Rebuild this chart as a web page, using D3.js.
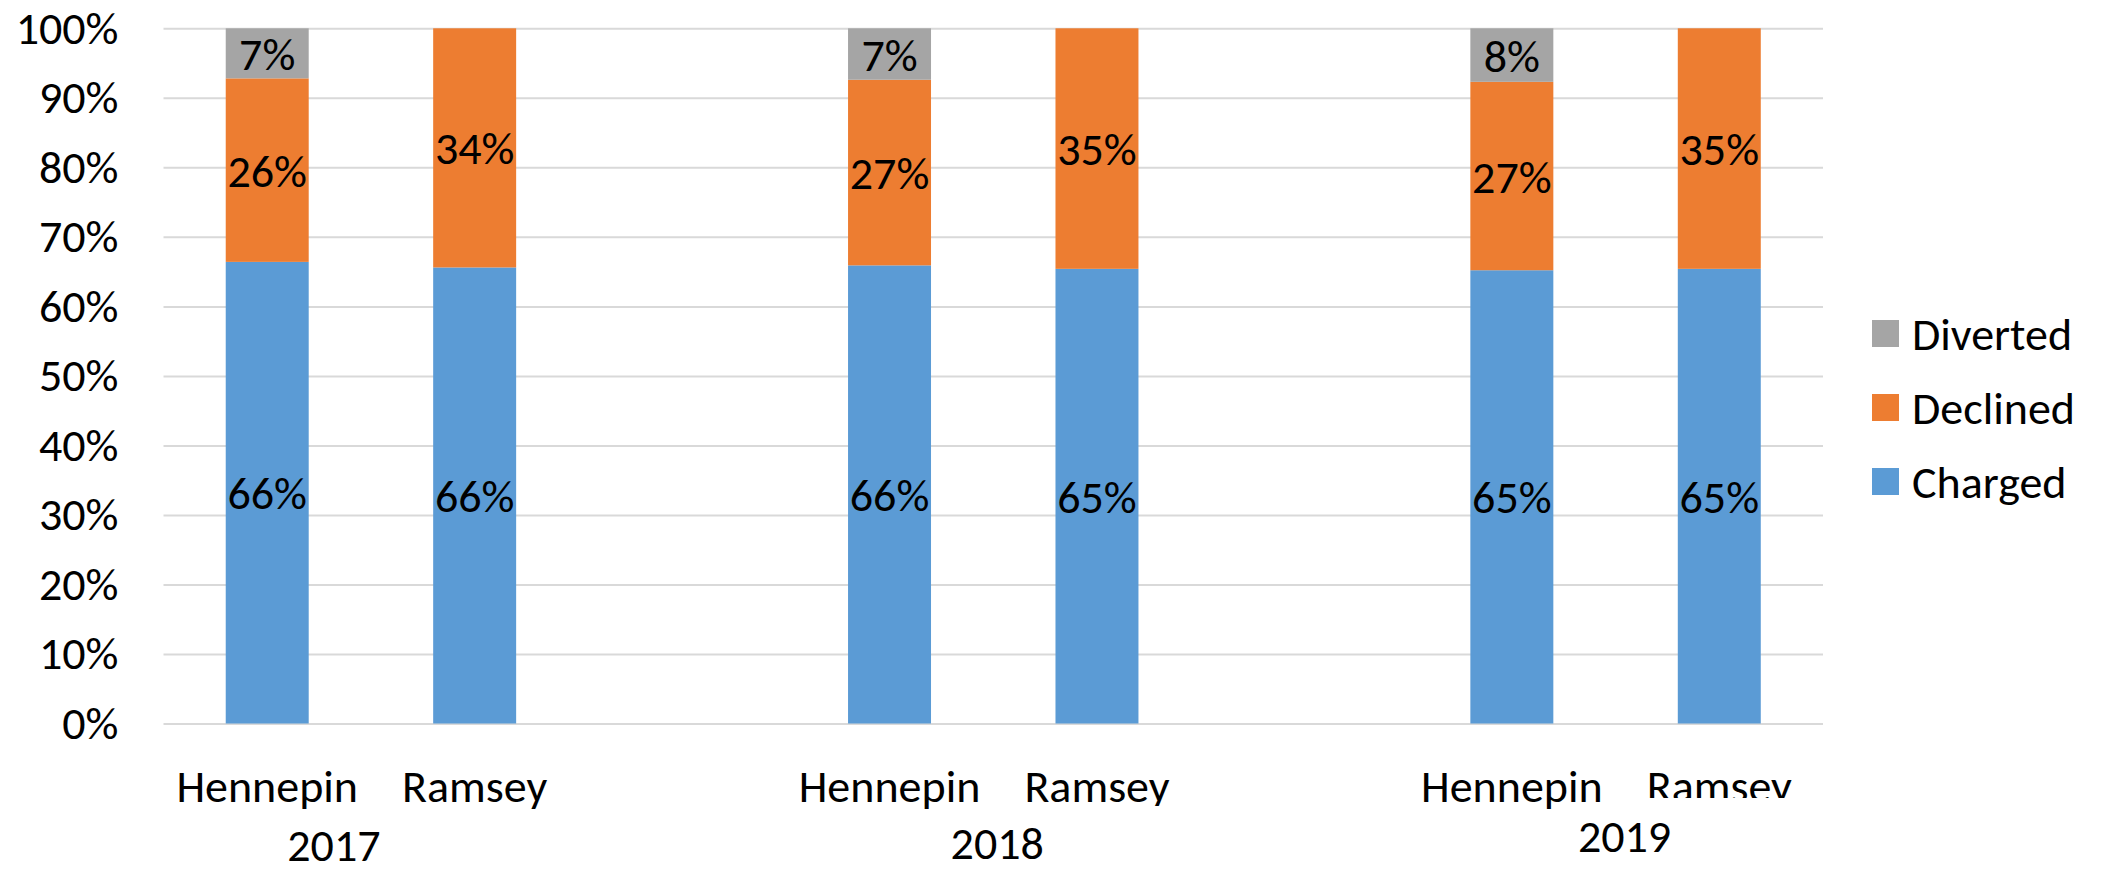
<!DOCTYPE html>
<html>
<head>
<meta charset="utf-8">
<script src="https://cdn.jsdelivr.net/npm/d3@7"></script>
<style>
  html, body { margin: 0; padding: 0; background: #fff; }
  text { font-family: Carlito, Calibri, Lato, sans-serif; fill: #000; }
</style>
</head>
<body>
<script>
// categories, in slot order (blank slots separate the years)
var years = ["2017", "2018", "2019"];
var counties = ["Hennepin", "Ramsey"];
var seriesNames = ["Charged", "Declined", "Diverted"];

// share of cases, % (order: H2017, R2017, H2018, R2018, H2019, R2019)
var charged  = [66.4, 65.6, 65.9, 65.4, 65.2, 65.4];
var declined = [26.4, 34.4, 26.7, 34.6, 27.1, 34.6];
var diverted = [7.2, 0, 7.4, 0, 7.7, 0];

var yTicks = [0, 10, 20, 30, 40, 50, 60, 70, 80, 90, 100];

var colours = { Charged: "#5B9BD5", Declined: "#ED7D31", Diverted: "#A5A5A5" };

var width = 2102, height = 871;
var fontSize = 46;

// build rows + slot list (one empty slot between years)
var rows = [];
var slots = [];
years.forEach(function (yr, yi) {
  if (yi > 0) slots.push("gap" + yi);
  counties.forEach(function (c, ci) {
    var i = yi * counties.length + ci;
    var key = yr + "|" + c;
    rows.push({ key: key, year: yr, county: c, Charged: charged[i], Declined: declined[i], Diverted: diverted[i] });
    slots.push(key);
  });
});

var x = d3.scaleBand()
  .domain(slots)
  .range([163.5, 1823])
  .paddingInner(0.6)
  .paddingOuter(0.3);

var y = d3.scaleLinear()
  .domain([0, 100])
  .range([723.5, 28.3]);

var svg = d3.select("body").append("svg")
  .attr("xmlns", "http://www.w3.org/2000/svg")
  .attr("width", width)
  .attr("height", height);

// gridlines + y labels
var yAxis = svg.append("g")
  .attr("transform", "translate(163.5,0)")
  .call(d3.axisLeft(y)
    .tickValues(yTicks)
    .tickSize(-(1823 - 163.5))
    .tickPadding(45)
    .tickFormat(function (d) { return d + "%"; }));
yAxis.select(".domain").remove();
yAxis.selectAll(".tick line").attr("stroke", "#d9d9d9").attr("stroke-width", 2);
yAxis.selectAll(".tick text")
  .attr("font-size", fontSize)
  .attr("fill", "#000")
  .style("font-family", "Carlito, Calibri, Lato, sans-serif");

// stacked bars
var stacked = d3.stack().keys(seriesNames)(rows);

var layers = svg.selectAll(".layer")
  .data(stacked)
  .enter().append("g")
  .attr("class", "layer")
  .attr("fill", function (d) { return colours[d.key]; });

layers.selectAll("rect")
  .data(function (d) { return d.filter(function (p) { return p[1] - p[0] > 0; }); })
  .enter().append("rect")
  .attr("x", function (d) { return x(d.data.key); })
  .attr("width", x.bandwidth())
  .attr("y", function (d) { return y(d[1]); })
  .attr("height", function (d) { return y(d[0]) - y(d[1]); });

// data labels
layers.selectAll(".val")
  .data(function (d) { return d.filter(function (p) { return p[1] - p[0] > 0; }); })
  .enter().append("text")
  .attr("class", "val")
  .attr("x", function (d) { return x(d.data.key) + x.bandwidth() / 2; })
  .attr("y", function (d) { return y((d[0] + d[1]) / 2); })
  .attr("dy", "0.36em")
  .attr("text-anchor", "middle")
  .attr("font-size", fontSize)
  .text(function (d) { return Math.round(d[1] - d[0]) + "%"; });

// county labels (the Ramsey labels of 2018/2019 are cut off at the bottom, as in the original)
var clipBottom = { "2018|Ramsey": 806, "2019|Ramsey": 798 };
var defs = svg.append("defs");
Object.keys(clipBottom).forEach(function (k, i) {
  defs.append("clipPath").attr("id", "clip" + i)
    .append("rect").attr("x", 0).attr("y", 0).attr("width", width).attr("height", clipBottom[k]);
});

svg.selectAll(".cat")
  .data(rows)
  .enter().append("text")
  .attr("class", "cat")
  .attr("x", function (d) { return x(d.key) + x.bandwidth() / 2; })
  .attr("y", y(0) + 78)
  .attr("text-anchor", "middle")
  .attr("font-size", fontSize)
  .attr("clip-path", function (d) {
    var idx = Object.keys(clipBottom).indexOf(d.key);
    return idx >= 0 ? "url(#clip" + idx + ")" : null;
  })
  .text(function (d) { return d.county; });

// year labels, placed loosely under each pair (hand-placed in the original)
var yearNudge = [[-37, 2], [4, 0], [9, -7]];
svg.selectAll(".year")
  .data(years)
  .enter().append("text")
  .attr("class", "year")
  .attr("x", function (d, i) {
    var a = x(d + "|" + counties[0]), b = x(d + "|" + counties[1]);
    return (a + b + x.bandwidth()) / 2 + yearNudge[i][0];
  })
  .attr("y", function (d, i) { return y(0) + 135 + yearNudge[i][1]; })
  .attr("text-anchor", "middle")
  .attr("font-size", fontSize)
  .text(function (d) { return d; });

// legend (top to bottom: Diverted, Declined, Charged)
var legend = svg.append("g").attr("transform", "translate(1872,320)");
var legendItems = seriesNames.slice().reverse();
var li = legend.selectAll(".li")
  .data(legendItems)
  .enter().append("g")
  .attr("transform", function (d, i) { return "translate(0," + (i * 74) + ")"; });
li.append("rect")
  .attr("width", 27).attr("height", 27)
  .attr("fill", function (d) { return colours[d]; });
li.append("text")
  .attr("x", 40)
  .attr("y", 13.5)
  .attr("dy", "0.36em")
  .attr("font-size", fontSize)
  .text(function (d) { return d; });
</script>
</body>
</html>
